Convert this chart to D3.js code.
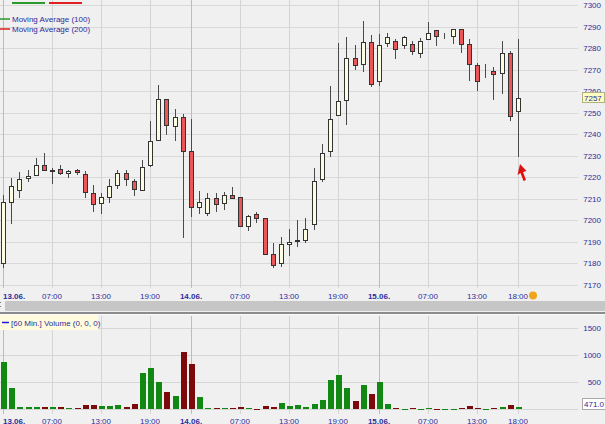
<!DOCTYPE html>
<html><head><meta charset="utf-8">
<script src="https://cdn.jsdelivr.net/npm/d3@7"></script>
<style>
html,body{margin:0;padding:0;background:#f0f0f0;overflow:hidden}
svg{display:block}
text{font-family:"Liberation Sans",Arial,sans-serif;}
</style></head><body>
<svg id="c" width="605" height="424"></svg>
<script>
// ---- data (hourly bars, index 0..63) ----
const openP  = [7180,7208.5,7214,7219.5,7221,7225.5,7223,7224,7222,7223.5,7221.5,7212.5,7208,7211,7216.5,7222,7218.5,7214,7225.5,7237.5,7256.5,7244,7248,7232,7206,7203.5,7210.5,7208,7212,7211,7197.5,7203,7201,7184.5,7180,7189,7190.5,7191,7198.5,7219,7232,7249,7256,7275.5,7272.5,7283,7264.5,7282.5,7283.5,7281.5,7282,7277.5,7284,7288.5,7285,7285.5,7289,7282,7272,7267,7269.5,7268.5,7277.5,7251];
const highP  = [7212,7219.5,7222.5,7223.5,7229,7231.5,7224.5,7225.5,7223.5,7224,7223,7216.5,7212.5,7219,7223.5,7223.5,7219,7228,7246,7263,7256.5,7251.5,7249.5,7247,7213.5,7212.5,7212.5,7213,7215.5,7211,7202.5,7204,7201,7189.5,7192.5,7196,7200,7201,7224.5,7235.5,7262.5,7282.5,7285,7281.5,7292.5,7286,7286.5,7287,7284,7285.5,7283.5,7284.5,7292,7288.5,7287,7289,7289,7284,7273,7272.5,7271,7283.5,7278.5,7284];
const lowP   = [7178,7198.5,7210.5,7218,7220.5,7223,7217,7221,7219.5,7221,7210.5,7204,7203,7208,7214.5,7216,7211.5,7213.5,7225,7237,7239.5,7237,7192,7201.5,7203,7202,7204,7205,7210.5,7197,7195,7199,7184,7178,7178.5,7183.5,7187.5,7189.5,7195.5,7218,7229.5,7248.5,7244.5,7270,7269,7262,7262.5,7280.5,7275,7279.5,7277,7275.5,7284,7281,7284,7282,7277.5,7264.5,7260,7266,7256,7258.5,7246,7229.5];
const closeP = [7208.5,7216,7219,7220.5,7225.5,7223.5,7223.5,7222,7223,7222.5,7213,7207.5,7211,7216,7222,7219,7214.5,7225,7237,7256.5,7244.5,7248,7232,7206,7208.5,7210.5,7207.5,7212,7210.5,7197.5,7202,7201,7184.5,7179.5,7189,7190,7191,7196,7218.5,7231.5,7247,7255.5,7275.5,7272,7283,7263.5,7281.5,7285,7279.5,7285,7278.5,7283.5,7287,7285.5,7285,7289,7282,7272.5,7264.5,7267.2,7268,7277.5,7248.5,7257];
const volume = [875,383,31,31,43,43,31,31,20,20,80,68,56,56,68,43,93,672,752,493,321,241,1048,838,228,20,20,20,13,31,20,6,56,43,105,56,68,43,93,167,537,629,394,154,444,272,505,93,13,6,13,6,13,6,6,6,20,56,20,6,20,43,68,43];
const xTickIndex  = [0,6,12,18,23,29,35,41,46,52,58,63];
const xTickLabels = ["13.06.","07:00","13:00","19:00","14.06.","07:00","13:00","19:00","15.06.","07:00","13:00","18:00"];
const priceTicks  = [7170,7180,7190,7200,7210,7220,7230,7240,7250,7260,7270,7280,7290,7300];
const volumeTicks = [500,1000,1500];
const legendItems = ["Moving Average  (100)","Moving Average  (200)"];
const legendColors = ["#2a9a2a","#e02020"];
const volumeLegend = "[60 Min.] Volume  (0, 0, 0)";
const volumeMarker = "471.0";

// ---- layout ----
const svg = d3.select("#c");
const W = 605, plotRight = 578, labelRight = 601;
const x = d3.scaleLinear().domain([0, 63]).range([3, 518]);
const y = d3.scaleLinear().domain([7170, 7300]).range([285, 5]);
const yV = d3.scaleLinear().domain([0, 1500]).range([409, 328]);
const px = i => Math.round(x(i));
const blue = "#2c2c9c";
const isDay = s => s.endsWith(".");
const lastClose = closeP[closeP.length - 1];
const boxTop = Math.round(y(lastClose)) - 5.5;

svg.append("rect").attr("width", W).attr("height", 424).attr("fill", "#f0f0f0");
svg.append("defs").append("clipPath").attr("id", "aboveBox")
  .append("rect").attr("x", 0).attr("y", 0).attr("width", W).attr("height", boxTop);

// price grid
const gP = svg.append("g").attr("shape-rendering", "crispEdges");
gP.selectAll("line.h").data(priceTicks).join("line")
  .attr("x1", 0).attr("x2", plotRight)
  .attr("y1", d => Math.round(y(d)) + 0.5).attr("y2", d => Math.round(y(d)) + 0.5)
  .attr("stroke", "#d9d9d9");
gP.selectAll("line.v").data(xTickIndex).join("line")
  .attr("x1", d => px(d) + 0.5).attr("x2", d => px(d) + 0.5)
  .attr("y1", 0).attr("y2", 288)
  .attr("stroke", (d, k) => isDay(xTickLabels[k]) ? "#bcbcbc" : "#d4d4d4");

// top decorations + legend
svg.append("rect").attr("x", 12).attr("y", 2).attr("width", 33).attr("height", 2).attr("fill", legendColors[0]);
svg.append("rect").attr("x", 49).attr("y", 2).attr("width", 33).attr("height", 2).attr("fill", legendColors[1]);
legendItems.forEach((t, k) => {
  const yy = 19 + k * 10;
  svg.append("line").attr("x1", 0).attr("x2", 10).attr("y1", yy).attr("y2", yy)
    .attr("stroke", legendColors[k]).attr("stroke-width", 1.5);
  svg.append("text").attr("x", 12).attr("y", yy + 3).attr("font-size", 8).attr("fill", blue).text(t);
});

// candles
const idx = d3.range(openP.length);
const gC = svg.append("g").attr("shape-rendering", "crispEdges");
gC.selectAll("line.w").data(idx).join("line")
  .attr("x1", i => px(i) + 0.5).attr("x2", i => px(i) + 0.5)
  .attr("y1", i => Math.round(y(highP[i]))).attr("y2", i => Math.round(y(lowP[i])))
  .attr("stroke", "#4a4a4a");
gC.selectAll("rect").data(idx).join("rect")
  .attr("x", i => px(i) - 1.5).attr("width", 4)
  .attr("y", i => Math.round(y(Math.max(openP[i], closeP[i]))) + 0.5)
  .attr("height", i => Math.max(0, Math.round(y(Math.min(openP[i], closeP[i]))) - Math.round(y(Math.max(openP[i], closeP[i])))))
  .attr("fill", i => closeP[i] >= openP[i] ? "#fdfde4" : "#ec5656")
  .attr("stroke", "#333");

// price axis labels (the one under the last-price box is only partly visible)
svg.selectAll("text.py").data(priceTicks).join("text")
  .attr("x", labelRight).attr("y", d => y(d) + 3)
  .attr("text-anchor", "end").attr("font-size", 8).attr("fill", blue)
  .attr("clip-path", d => Math.abs(y(d) - y(lastClose)) < 10 ? "url(#aboveBox)" : null)
  .text(d => d);
// last price marker
svg.append("rect").attr("x", 582.5).attr("y", boxTop).attr("width", 22).attr("height", 10)
  .attr("fill", "#ffffc4").attr("stroke", "#b0b080");
svg.append("text").attr("x", 584).attr("y", y(lastClose) + 3).attr("font-size", 8).attr("fill", blue)
  .text(d3.format(".0f")(lastClose));

// time axis labels
function timeLabels(yy) {
  svg.append("g").selectAll("text").data(xTickIndex).join("text")
    .attr("x", (d, k) => k === 0 ? 3 : px(d))
    .attr("y", yy)
    .attr("text-anchor", (d, k) => k === 0 ? "start" : "middle")
    .attr("font-size", 8)
    .attr("font-weight", (d, k) => isDay(xTickLabels[k]) ? "bold" : "normal")
    .attr("fill", blue)
    .text((d, k) => xTickLabels[k]);
}
timeLabels(299);
svg.append("circle").attr("cx", 533).attr("cy", 295.5).attr("r", 4).attr("fill", "#f2a41c");

// red arrow cursor
svg.append("path").attr("d", "M520,164 L517.5,175 L520.5,173 L523.5,181 L526,180 L523,172 L526.5,171 Z").attr("fill", "#e01010");

// scrollbar + separator
svg.append("rect").attr("x", 5).attr("y", 301).attr("width", W - 5).attr("height", 10).attr("fill", "#c6c6c6").attr("rx", 1);
svg.append("rect").attr("x", 0).attr("y", 302).attr("width", 1).attr("height", 1).attr("fill", "#777");
svg.append("rect").attr("x", 0).attr("y", 306).attr("width", 1).attr("height", 1).attr("fill", "#777");
svg.append("rect").attr("x", 0).attr("y", 312).attr("width", W).attr("height", 2).attr("fill", "#8c8c8c");
svg.append("rect").attr("x", 0).attr("y", 314).attr("width", W).attr("height", 1).attr("fill", "#fafafa");

// volume grid
const gV = svg.append("g").attr("shape-rendering", "crispEdges");
gV.selectAll("line.h").data([0].concat(volumeTicks)).join("line")
  .attr("x1", 0).attr("x2", plotRight)
  .attr("y1", d => Math.round(yV(d)) + 0.5).attr("y2", d => Math.round(yV(d)) + 0.5)
  .attr("stroke", "#d6d6d6");
gV.selectAll("line.v").data(xTickIndex).join("line")
  .attr("x1", d => px(d) + 0.5).attr("x2", d => px(d) + 0.5)
  .attr("y1", 316).attr("y2", 414)
  .attr("stroke", (d, k) => isDay(xTickLabels[k]) ? "#bcbcbc" : "#d4d4d4");

// volume legend
svg.append("rect").attr("x", 0).attr("y", 315).attr("width", 98).attr("height", 15).attr("fill", "#fffbdc");
svg.append("line").attr("x1", 2).attr("x2", 9).attr("y1", 322.5).attr("y2", 322.5).attr("stroke", "#1c1ce0").attr("stroke-width", 1.5);
svg.append("text").attr("x", 11).attr("y", 325.5).attr("font-size", 8).attr("fill", blue).text(volumeLegend);

// volume bars
svg.append("g").attr("shape-rendering", "crispEdges").selectAll("rect").data(idx).join("rect")
  .attr("x", i => px(i) - 2).attr("width", 6)
  .attr("y", i => Math.round(yV(volume[i])))
  .attr("height", i => Math.max(1, Math.round(yV(0)) - Math.round(yV(volume[i]))))
  .attr("fill", i => closeP[i] >= openP[i] ? "#118811" : "#7d0a0a");

// volume axis labels
svg.selectAll("text.vy").data(volumeTicks).join("text")
  .attr("x", labelRight).attr("y", d => yV(d) + 3)
  .attr("text-anchor", "end").attr("font-size", 8).attr("fill", blue).text(d => d);
svg.append("rect").attr("x", 582.5).attr("y", 398.5).attr("width", 23).attr("height", 11)
  .attr("fill", "#ffffff").attr("stroke", "#aaaaaa");
svg.append("text").attr("x", 584).attr("y", 407).attr("font-size", 8).attr("fill", blue).text(volumeMarker);

// time labels at bottom (cut off by the window edge, as in the reference)
timeLabels(424);
</script>
</body></html>
